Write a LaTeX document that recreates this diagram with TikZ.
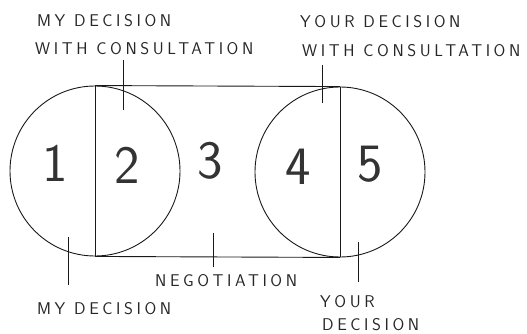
\documentclass[tikz,border=0pt]{standalone}
\usepackage{fontspec}
\newfontfamily\hand[LetterSpace=21]{Latin Modern Sans}
\newfontfamily\digits{Latin Modern Sans}
\begin{document}
\begin{tikzpicture}[x=1pt,y=-1pt,
  ink/.style={draw=black!90,line width=0.9pt},
  lab/.style={font=\hand\fontsize{17}{17}\selectfont,text=black!85,inner sep=0pt,anchor=base west},
  num/.style={font=\digits\fontsize{54}{54}\selectfont,text=black!80,inner sep=0pt},
  ring/.style={ink,circle,minimum size=170pt,inner sep=0pt}]
\useasboundingbox (0,0) rectangle (527,334);
% circles
\node[ring] (L) at (95,171) {};
\node[ring] (R) at (340,172) {};
% connecting lines and diameters
\draw[ink] (L.north) -- (R.north);
\draw[ink] (L.south) -- (R.south);
\draw[ink] (L.north) -- (L.south);
\draw[ink] (R.north) -- (R.south);
% numbers
\node[num] (n1) at (55,163) {1};
\node[num] (n2) at (127,165) {2};
\node[num] (n3) at (210,161) {3};
\node[num] (n4) at (298,167) {4};
\node[num] (n5) at (370,164) {5};
% labels
\node[lab] (t1) at (37,27) {MY DECISION};
\node[lab] (t2) at (35,55) {WITH CONSULTATION};
\node[lab] (t3) at (300,28) {YOUR DECISION};
\node[lab] (t4) at (302,57) {WITH CONSULTATION};
\node[lab] (b1) at (155,286) {NEGOTIATION};
\node[lab] (b2) at (37,314) {MY DECISION};
\node[lab] (b3) at (320,307) {YOUR};
\node[lab] (b4) at (322,330) {DECISION};
% leader ticks
\coordinate (k1a) at (123,60);  \coordinate (k1b) at (123,110);
\coordinate (k2a) at (322,65);  \coordinate (k2b) at (322,103);
\coordinate (k3a) at (68,237);  \coordinate (k3b) at (68,285);
\coordinate (k4a) at (213,233); \coordinate (k4b) at (213,267);
\coordinate (k5a) at (358,242); \coordinate (k5b) at (358,282);
\draw[ink] (k1a) -- (k1b);
\draw[ink] (k2a) -- (k2b);
\draw[ink] (k3a) -- (k3b);
\draw[ink] (k4a) -- (k4b);
\draw[ink] (k5a) -- (k5b);
\end{tikzpicture}
\end{document}
